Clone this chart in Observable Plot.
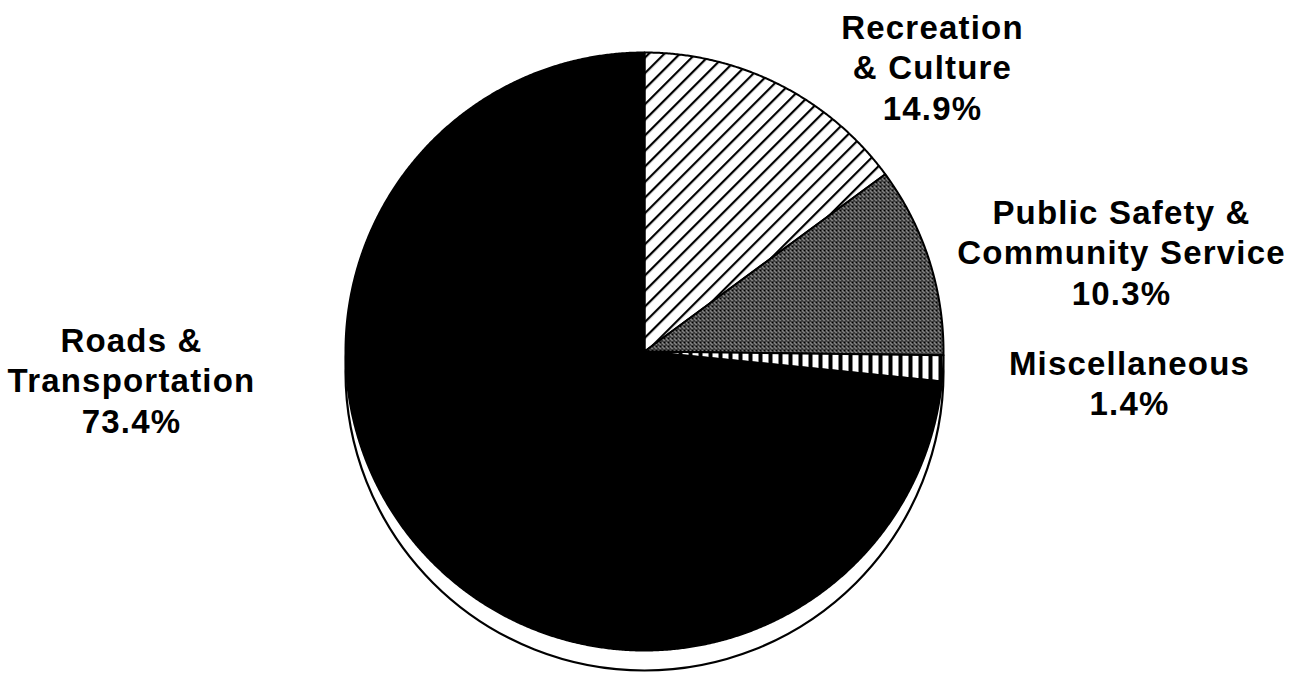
<!DOCTYPE html>
<html>
<head>
<meta charset="utf-8">
<script src="https://cdn.jsdelivr.net/npm/d3@7"></script>
<script src="https://cdn.jsdelivr.net/npm/@observablehq/plot@0.6"></script>
<style>
  html, body { margin: 0; padding: 0; background: #fff; }
  #chart { width: 1300px; height: 675px; }
</style>
</head>
<body>
<svg width="0" height="0" style="position:absolute">
  <defs>
    <pattern id="hatch" patternUnits="userSpaceOnUse" width="11" height="11" patternTransform="rotate(45)">
      <rect width="11" height="11" fill="#fff"></rect>
      <rect x="0" y="0" width="2.2" height="11" fill="#000"></rect>
    </pattern>
    <pattern id="stipple" patternUnits="userSpaceOnUse" width="4" height="4">
      <rect width="4" height="4" fill="#000"></rect>
      <rect x="0" y="0" width="1" height="1" fill="#fff"></rect>
      <rect x="2" y="1" width="1" height="1" fill="#fff"></rect>
      <rect x="3" y="3" width="1" height="1" fill="#fff"></rect>
      <rect x="1" y="2" width="1" height="1" fill="#fff"></rect>
      <rect x="2" y="3" width="1" height="1" fill="#ddd"></rect>
    </pattern>
    <pattern id="vstripes" patternUnits="userSpaceOnUse" width="10" height="10">
      <rect width="10" height="10" fill="#000"></rect>
      <rect x="2" y="0" width="6" height="10" fill="#fff"></rect>
    </pattern>
  </defs>
</svg>
<div id="chart"></div>
<script>
// ---- data ----
const categories = ["Recreation & Culture", "Public Safety & Community Service", "Miscellaneous", "Roads & Transportation"];
const shares = [14.9, 10.3, 1.4, 73.4];
const labelLines = [["Recreation", "& Culture"], ["Public Safety &", "Community Service"], ["Miscellaneous"], ["Roads &", "Transportation"]];

// ---- styles / layout ----
const fills = ["url(#hatch)", "url(#stipple)", "url(#vstripes)", "#000"];
const W = 1300, H = 675;
const R = 299, cx = 644, cy = 351;     // pie radius & centre (px)
const shadowOffset = 20;               // 3D edge offset (px)
const labelPos = [[932, 9], [1121, 194], [1129, 345], [131, 322]]; // top-centre of each label block (px)
const fontSize = 33;

const arcs = d3.pie().sort(null).value(d => d)(shares);

function slicePoints(a) {
  const pts = [{x: 0, y: 0}];
  const n = Math.max(2, Math.ceil((a.endAngle - a.startAngle) / 0.005));
  for (let i = 0; i <= n; i++) {
    const t = a.startAngle + (a.endAngle - a.startAngle) * i / n;
    pts.push({x: Math.sin(t), y: Math.cos(t)});
  }
  pts.push({x: 0, y: 0});
  return pts;
}

const marks = [];
// 3D rim underneath
marks.push(Plot.dot([{x: 0, y: -shadowOffset / R}], {x: "x", y: "y", r: R, fill: "#fff", stroke: "#000", strokeWidth: 2.2}));
// slices
arcs.forEach((a, i) => {
  marks.push(Plot.line(slicePoints(a), {x: "x", y: "y", fill: fills[i], stroke: "#000", strokeWidth: 2, strokeLinejoin: "round"}));
});
// labels
categories.forEach((c, i) => {
  const txt = labelLines[i].join("\n") + "\n" + shares[i].toFixed(1) + "%";
  marks.push(Plot.text([txt], {
    frameAnchor: "top-left", dx: labelPos[i][0], dy: labelPos[i][1],
    text: d => d, textAnchor: "middle", lineAnchor: "top", lineHeight: 1.24,
    fontSize, fontWeight: "bold", fill: "#000"
  }));
});

const chart = Plot.plot({
  width: W, height: H,
  margin: 0,
  x: {domain: [-cx / R, (W - cx) / R], range: [0, W], axis: null},
  y: {domain: [-(H - cy) / R, cy / R], range: [H, 0], axis: null},
  style: {background: "#fff", fontFamily: "'Liberation Sans', Arial, Helvetica, sans-serif", letterSpacing: "1.2px", overflow: "visible"},
  marks
});
document.getElementById("chart").appendChild(chart);
</script>
</body>
</html>
